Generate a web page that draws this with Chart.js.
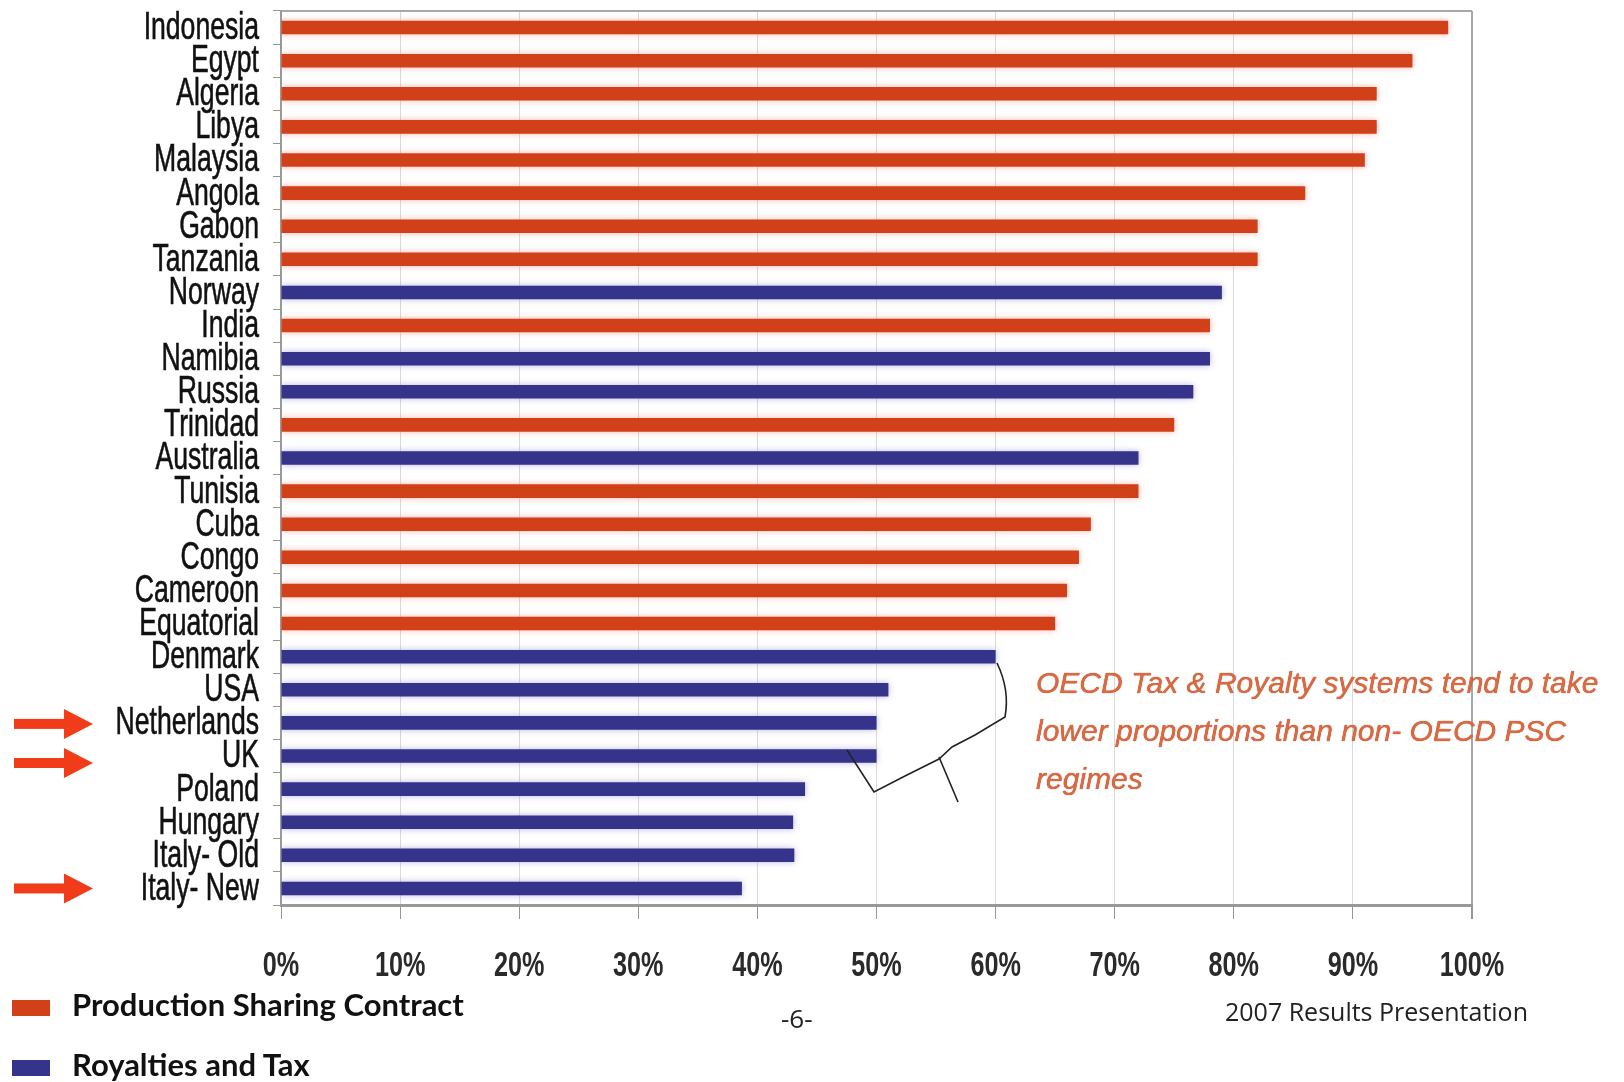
<!DOCTYPE html>
<html>
<head>
<meta charset="utf-8">
<script src="https://cdn.jsdelivr.net/npm/chart.js@4.4.0/dist/chart.umd.min.js"></script>
<style>
  body { margin: 0; background: #fff; }
  #wrap { position: relative; width: 1624px; height: 1082px; }
  .note { position: absolute; left: 1036px; top: 659px; font: italic 30px 'Liberation Sans', Arial, sans-serif;
          line-height: 48px; color: #e0683c; text-shadow: 0 0 1px #6a3a2a; white-space: nowrap; }
  .legend { position: absolute; left: 12px; top: 0; font: bold 31px Lato, 'Open Sans', sans-serif; color: #111; }
  .legend div { position: absolute; white-space: nowrap; }
  .legend span { position: absolute; width: 38px; height: 16px; }
  .foot { position: absolute; font-family: 'Open Sans', 'DejaVu Sans', sans-serif; color: #222; white-space: nowrap; }
</style>
</head>
<body>
<div id="wrap">
  <canvas id="myChart"></canvas>
  <div class="note">OECD Tax &amp; Royalty systems tend to take<br>lower proportions than non- OECD PSC<br>regimes</div>
  <div class="legend" id="legend"></div>
  <div class="foot" style="left:781px; top:1000px; font-size:26px;">-6-</div>
  <div class="foot" style="left:1225px; top:994px; font-size:25px;">2007 Results Presentation</div>
</div>
<script>
// datos
const countries = ['Indonesia', 'Egypt', 'Algeria', 'Libya', 'Malaysia', 'Angola', 'Gabon', 'Tanzania', 'Norway', 'India',
    'Namibia', 'Russia', 'Trinidad', 'Australia', 'Tunisia', 'Cuba', 'Congo', 'Cameroon', 'Equatorial', 'Denmark',
    'USA', 'Netherlands', 'UK', 'Poland', 'Hungary', 'Italy- Old', 'Italy- New'];
const govTake = [98, 95, 92, 92, 91, 86, 82, 82, 79, 78, 78, 76.6, 75, 72, 72, 68, 67, 66, 65, 60, 51, 50, 50, 44, 43, 43.1, 38.7];
// P = Production Sharing Contract, R = Royalties and Tax
const regime = ['P', 'P', 'P', 'P', 'P', 'P', 'P', 'P', 'R', 'P', 'R', 'R', 'P', 'R', 'P', 'P', 'P', 'P', 'P', 'R',
    'R', 'R', 'R', 'R', 'R', 'R', 'R'];
const xTicks = [0, 10, 20, 30, 40, 50, 60, 70, 80, 90, 100];
const xTickLabels = ['0%', '10%', '20%', '30%', '40%', '50%', '60%', '70%', '80%', '90%', '100%'];
const flagged = ['Netherlands', 'UK', 'Italy- New'];
const flagNudge = [1, 7, 0];

const pscColor = 'rgb(210, 64, 26)';
const rtColor = 'rgb(53, 51, 138)';
const glow = ['rgba(245, 150, 135, 0.7)', 'rgba(150, 150, 215, 0.7)'];

// etiquetas estrechas (tipo Arial Narrow) dibujadas con la escala
function narrowText(c, txt, x, y, sx, stroke) {
    c.save();
    c.translate(x, y);
    c.scale(sx, 1);
    c.fillText(txt, 0, 0);
    if (stroke) c.strokeText(txt, 0, 0);
    c.restore();
}

const extras = {
    id: 'extras',
    beforeDatasetDraw(chart, args) {
        chart.ctx.save();
        chart.ctx.shadowColor = glow[args.index];
        chart.ctx.shadowBlur = 6;
    },
    afterDatasetDraw(chart) {
        chart.ctx.restore();
    },
    afterDraw(chart) {
        const c = chart.ctx;
        const a = chart.chartArea;
        const xs = chart.scales.x;
        const ys = chart.scales.y;
        c.save();
        // borde superior
        c.strokeStyle = '#a8a8a8';
        c.lineWidth = 2;
        c.beginPath();
        c.moveTo(a.left, a.top);
        c.lineTo(a.right, a.top);
        c.stroke();

        // etiquetas de paises
        c.fillStyle = '#111';
        c.strokeStyle = '#111';
        c.lineWidth = 0.6;
        c.font = "38px 'Liberation Sans', Arial, sans-serif";
        c.textAlign = 'right';
        c.textBaseline = 'middle';
        countries.forEach((name, i) => narrowText(c, name, a.left - 22, ys.getPixelForValue(i) + 1, 0.7, true));

        // etiquetas del eje x
        c.fillStyle = '#2a2a2a';
        c.font = "bold 35px 'Liberation Sans', Arial, sans-serif";
        c.textAlign = 'center';
        xTicks.forEach((v, i) => narrowText(c, xTickLabels[i], xs.getPixelForValue(v), a.bottom + 61, 0.72, false));

        // flechas
        c.fillStyle = '#f03c18';
        flagged.forEach((name, k) => {
            const y = ys.getPixelForValue(countries.indexOf(name)) + flagNudge[k];
            c.fillRect(14, y - 5, 52, 10);
            c.beginPath();
            c.moveTo(64, y - 15);
            c.lineTo(93, y);
            c.lineTo(64, y + 15);
            c.closePath();
            c.fill();
        });

        // llave
        c.strokeStyle = '#222';
        c.lineWidth = 1.6;
        c.beginPath();
        c.moveTo(997, 663);
        c.quadraticCurveTo(1010, 690, 1005, 717);
        c.lineTo(975, 735);
        c.lineTo(952, 747);
        c.lineTo(939, 759);
        c.lineTo(905, 776);
        c.lineTo(874, 792);
        c.lineTo(847, 750);
        c.stroke();
        c.beginPath();
        c.moveTo(939, 757);
        c.lineTo(958, 802);
        c.stroke();
        c.restore();
    }
};

const ctx = document.getElementById('myChart').getContext('2d');
const myChart = new Chart(ctx, {
    type: 'bar',
    data: {
        labels: countries,
        datasets: [{
            label: 'Production Sharing Contract',
            data: govTake.map((v, i) => regime[i] === 'P' ? v : null),
            backgroundColor: pscColor
        },
        {
            label: 'Royalties and Tax',
            data: govTake.map((v, i) => regime[i] === 'R' ? v : null),
            backgroundColor: rtColor
        }]
    },
    options: {
        indexAxis: 'y',
        responsive: true,
        maintainAspectRatio: false,
        animation: false,
        grouped: false,
        skipNull: true,
        categoryPercentage: 1,
        barPercentage: 0.41,
        layout: { padding: { left: 0, right: 152, top: 11, bottom: 97 } },
        plugins: {
            legend: { display: false },
            tooltip: { enabled: false }
        },
        scales: {
            x: {
                min: 0,
                max: 100,
                afterBuildTicks: (axis) => { axis.ticks = xTicks.map(v => ({ value: v })); },
                afterFit: (scale) => { scale.height = 80; },
                ticks: { display: false },
                grid: {
                    color: (c) => c.tick && c.tick.value === 100 ? '#a8a8a8' : '#dadada',
                    lineWidth: (c) => c.tick && c.tick.value === 100 ? 2 : 1,
                    tickLength: 14,
                    tickColor: '#999'
                },
                border: { color: '#999', width: 3 }
            },
            y: {
                afterFit: (scale) => { scale.width = 281; },
                ticks: { display: false, autoSkip: false },
                grid: {
                    drawOnChartArea: false,
                    offset: true,
                    tickLength: 8,
                    tickColor: '#8a9a8a'
                },
                border: { color: '#999', width: 2 }
            }
        }
    },
    plugins: [extras]
});

// leyenda en html
const legend = document.getElementById('legend');
myChart.data.datasets.forEach((ds, i) => {
    const top = 1000 + i * 60;
    legend.insertAdjacentHTML('beforeend',
        '<span style="left:0; top:' + top + 'px; background:' + ds.backgroundColor + '"></span>' +
        '<div style="left:60px; top:' + (top - 15) + 'px">' + ds.label + '</div>');
});
</script>
</body>
</html>
